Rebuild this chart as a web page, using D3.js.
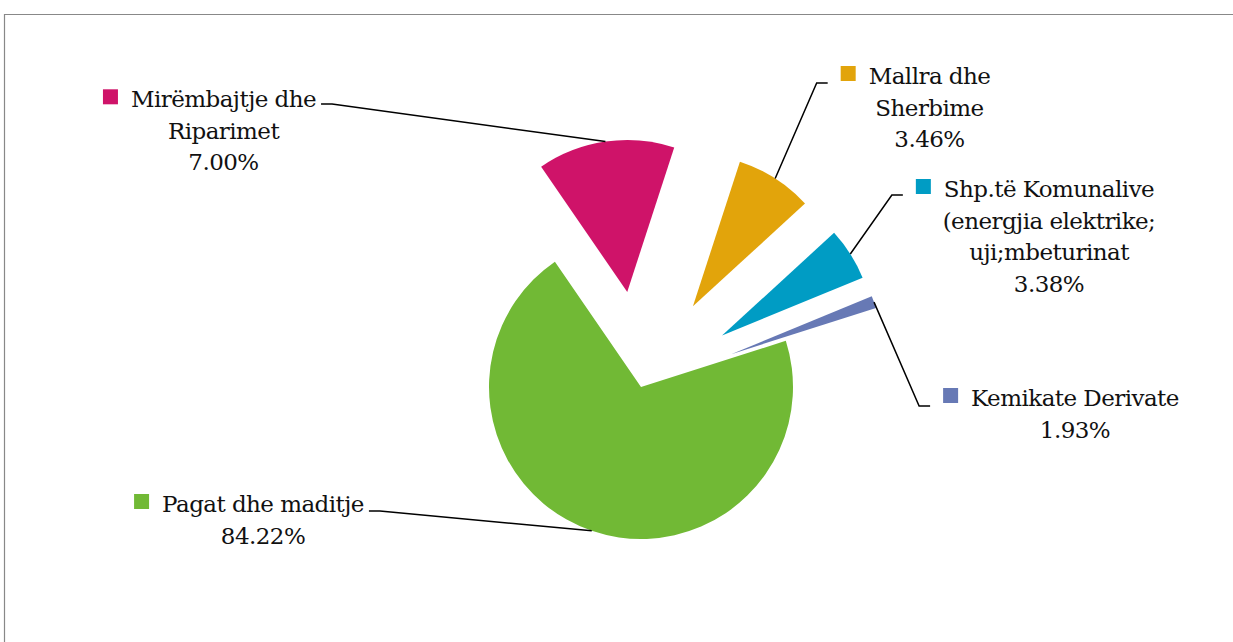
<!DOCTYPE html>
<html>
<head>
<meta charset="utf-8">
<script src="https://cdn.jsdelivr.net/npm/d3@7"></script>
<style>
  body { margin: 0; background: #fff; }
  svg { display: block; }
  .lbl { font-family: "DejaVu Serif", serif; font-size: 23px; letter-spacing: -0.55px; fill: #111; }
</style>
</head>
<body>
<div id="chart"></div>
<script>
// Categories, in the order the slices run clockwise
const categories = ["Mirëmbajtje dhe Riparimet", "Mallra dhe Sherbime", "Shp.të Komunalive (energjia elektrike; uji;mbeturinat", "Kemikate Derivate", "Pagat dhe maditje"];
// Label lines as printed on the chart
const labelLines = [
    ["Mirëmbajtje dhe", "Riparimet"],
    ["Mallra dhe", "Sherbime"],
    ["Shp.të Komunalive", "(energjia elektrike;", "uji;mbeturinat"],
    ["Kemikate Derivate"],
    ["Pagat dhe maditje"]
];
// Percentages printed in the labels
const percentLabels = ["7.00%", "3.46%", "3.38%", "1.93%", "84.22%"];
// Slice sizes as they are drawn (share of the circle)
const sliceShares = [14.6, 8.2, 5.6, 1.3, 70.4];
const colors = ["#CF1369", "#E2A40B", "#009CC4", "#6779B5", "#71B935"];
// which slices are pulled out of the pie
const exploded = [true, true, true, true, false];

function showPie() {
    const width = 1233;
    const height = 642;
    const cx = 641, cy = 387;
    const radius = 152;
    const explode = 96;
    const lineH = 31.5;

    const svg = d3.select("#chart")
        .append("svg")
        .attr("width", width)
        .attr("height", height);

    // frame of the chart area
    svg.append("path")
        .attr("d", `M4.5,${height} V14.5 H${width}`)
        .attr("fill", "none")
        .attr("stroke", "#888")
        .attr("stroke-width", 1.2);

    const pie = d3.pie()
        .sort(null)
        .value(d => d)
        .startAngle(-34.5 * Math.PI / 180)
        .endAngle(-34.5 * Math.PI / 180 + 2 * Math.PI);

    const arcs = pie(sliceShares);
    const arc = d3.arc().innerRadius(0).outerRadius(radius);
    const edge = d3.arc().innerRadius(radius).outerRadius(radius);

    // offset of each slice from the pie centre
    const shift = (d, i) => {
        if (!exploded[i]) return [0, 0];
        const a = (d.startAngle + d.endAngle) / 2;
        return [explode * Math.sin(a), -explode * Math.cos(a)];
    };

    const g = svg.append("g").attr("transform", `translate(${cx},${cy})`);

    g.selectAll("path.slice")
        .data(arcs)
        .enter().append("path")
        .attr("class", "slice")
        .attr("d", arc)
        .attr("fill", (d, i) => colors[i])
        .attr("transform", (d, i) => `translate(${shift(d, i)})`);

    // label placement: centre x and first baseline, which side the leader leaves from
    const layout = [
        { x: 223.5, y: 107.3, side: "right", ly: 104 },
        { x: 929.5, y: 84, side: "left", ly: 83 },
        { x: 1049, y: 197, side: "left", ly: 195 },
        { x: 1075, y: 406, side: "left", ly: 406 },
        { x: 263, y: 512, side: "right", ly: 511 }
    ];

    const labels = svg.append("g");

    arcs.forEach((d, i) => {
        const L = layout[i];
        const lines = labelLines[i].concat([percentLabels[i]]);
        const t = labels.append("g");
        lines.forEach((s, k) => {
            t.append("text")
                .attr("class", "lbl")
                .attr("x", L.x)
                .attr("y", L.y + k * lineH)
                .attr("text-anchor", "middle")
                .text(s);
        });
        const w = t.select("text").node().getComputedTextLength();
        const textLeft = L.x - w / 2;
        const markerLeft = textLeft - 13 - 15;

        // legend key square
        t.append("rect")
            .attr("x", markerLeft)
            .attr("y", L.y - 18)
            .attr("width", 15)
            .attr("height", 15)
            .attr("fill", colors[i]);

        // leader line: from label, short elbow, then to slice edge at mid angle
        const c = edge.centroid(d);
        const s = shift(d, i);
        const end = [cx + c[0] + s[0], cy + c[1] + s[1]];
        let start, elbow;
        if (L.side === "right") {
            start = [L.x + w / 2 + 5, L.ly];
            elbow = [start[0] + 11, L.ly];
        } else {
            start = [markerLeft - 13, L.ly];
            elbow = [start[0] - 11, L.ly];
        }
        svg.append("path")
            .attr("d", d3.line()([start, elbow, end]))
            .attr("fill", "none")
            .attr("stroke", "#000")
            .attr("stroke-width", 1.5);
    });
}

showPie();
</script>
</body>
</html>
